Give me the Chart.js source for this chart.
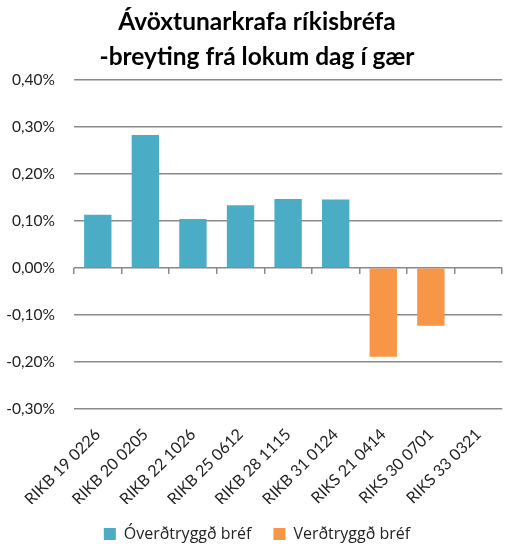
<!DOCTYPE html>
<html>
<head>
<meta charset="utf-8">
<script src="https://cdn.jsdelivr.net/npm/chart.js@4/dist/chart.umd.min.js"></script>
<style>
  html, body { margin: 0; padding: 0; background: #fff; }
  #wrap { width: 508px; height: 544px; }
</style>
</head>
<body>
<div id="wrap"><canvas id="chart"></canvas></div>
<script>
const categories = [
  'RIKB 19 0226', 'RIKB 20 0205', 'RIKB 22 1026', 'RIKB 25 0612', 'RIKB 28 1115',
  'RIKB 31 0124', 'RIKS 21 0414', 'RIKS 30 0701', 'RIKS 33 0321'
];
// breyting í prósentustigum
const overdtryggd = [0.113, 0.282, 0.104, 0.133, 0.146, 0.145, null, null, null];
const verdtryggd = [null, null, null, null, null, null, -0.189, -0.123, null];
const seriesNames = ['Óverðtryggð bréf', 'Verðtryggð bréf'];
const titleLines = ['Ávöxtunarkrafa ríkisbréfa', '-breyting frá lokum dag í gær'];

const gridColor = '#8a8a8a';
const font = 'Lato, "Liberation Sans", sans-serif';

const fmt = v => v.toFixed(2).replace('.', ',') + '%';

const ctx = document.getElementById('chart').getContext('2d');
new Chart(ctx, {
  type: 'bar',
  data: {
    labels: categories,
    datasets: [{
      label: seriesNames[0],
      data: overdtryggd,
      backgroundColor: '#4BACC6'
    }, {
      label: seriesNames[1],
      data: verdtryggd,
      backgroundColor: '#F79646'
    }]
  },
  options: {
    responsive: true,
    maintainAspectRatio: false,
    animation: false,
    layout: { padding: { top: 5, left: 2, right: -4, bottom: -8 } },
    datasets: {
      bar: { grouped: false, categoryPercentage: 1, barPercentage: 0.575 }
    },
    plugins: {
      title: {
        display: true,
        text: titleLines,
        color: '#000',
        font: { family: font, size: 24.5, weight: 'bold', lineHeight: 1.42 },
        padding: { top: 0, bottom: 5 }
      },
      legend: {
        position: 'bottom',
        labels: {
          color: '#222',
          font: { family: '"Open Sans", sans-serif', size: 16 },
          boxWidth: 12,
          boxHeight: 12,
          padding: 22
        }
      },
      tooltip: { enabled: false }
    },
    scales: {
      x: {
        type: 'category',
        position: 'bottom',
        grid: { display: false, drawTicks: false },
        border: { display: false },
        ticks: {
          color: '#222',
          font: { family: font, size: 16 },
          minRotation: 45,
          maxRotation: 45,
          autoSkip: false,
          padding: 16
        },
        afterFit: s => { s.height = 95; }
      },
      x2: {
        type: 'category',
        position: { y: 0 },
        grid: {
          offset: true,
          drawOnChartArea: false,
          drawTicks: true,
          tickLength: 6,
          color: gridColor,
          lineWidth: 1.5
        },
        border: { display: false },
        ticks: { display: false }
      },
      y: {
        min: -0.3,
        max: 0.4,
        grid: { color: gridColor, lineWidth: 1.5, drawTicks: false },
        border: { display: false },
        ticks: {
          stepSize: 0.1,
          color: '#222',
          font: { family: font, size: 15.5 },
          padding: 19,
          callback: v => fmt(v)
        },
        afterFit: s => { s.width = 72; }
      }
    }
  }
});
</script>
</body>
</html>
